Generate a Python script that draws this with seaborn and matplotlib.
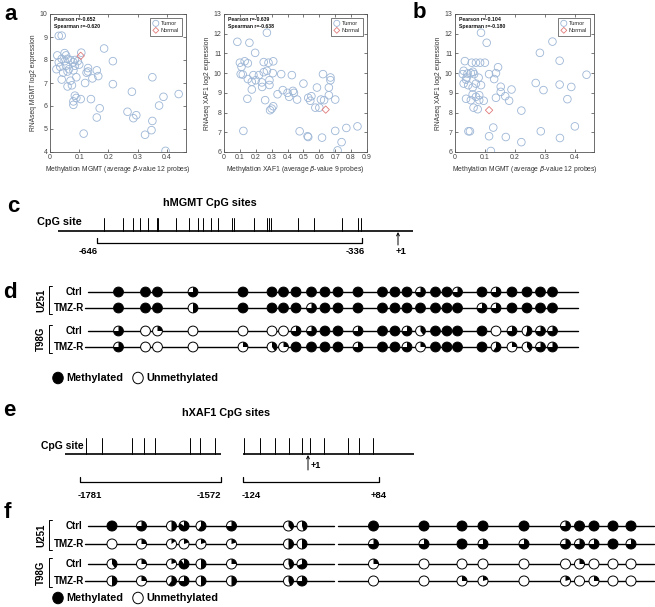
import numpy as np
import pandas as pd
import matplotlib
matplotlib.use("Agg")
import matplotlib.pyplot as plt
import seaborn as sns
from matplotlib.patches import Circle, Wedge, Ellipse

# ---------------- data ----------------
# panel a (left): MGMT methylation vs MGMT expression
a1_tumor_beta = [0.03, 0.04, 0.025, 0.03, 0.022, 0.035, 0.04, 0.05, 0.055, 0.06, 0.05, 0.055,
                 0.045, 0.04, 0.06, 0.065, 0.07, 0.06, 0.075, 0.08, 0.085, 0.08, 0.09, 0.095,
                 0.1, 0.07, 0.085, 0.085, 0.09, 0.08, 0.08, 0.105, 0.115, 0.12, 0.125, 0.13,
                 0.13, 0.14, 0.145, 0.16, 0.165, 0.16, 0.17, 0.185, 0.215, 0.215, 0.265, 0.28,
                 0.285, 0.295, 0.325, 0.347, 0.35, 0.35, 0.373, 0.388, 0.395, 0.44, 0.107]
a1_tumor_expr = [9.05, 9.06, 8.2, 7.9, 7.6, 7.7, 8.05, 8.3, 8.2, 8.05, 7.95, 7.75,
                 7.45, 7.15, 7.5, 7.6, 7.1, 6.85, 6.9, 7.9, 7.75, 7.55, 7.25, 7.95,
                 7.8, 8.0, 8.0, 6.45, 6.35, 6.2, 6.05, 6.3, 4.8, 7.0, 7.45, 7.65,
                 7.5, 6.3, 7.2, 7.55, 7.3, 5.5, 5.9, 8.5, 7.95, 6.95, 5.75, 6.62,
                 5.47, 5.6, 4.75, 4.95, 5.35, 7.25, 6.02, 6.4, 4.05, 6.52, 8.32]
a1_normal_beta = [0.105]
a1_normal_expr = [8.18]
a1_stats = ["Pearson r=-0.652", "Spearman r=-0.620"]

# panel a (right): XAF1 methylation vs XAF1 expression
a2_tumor_beta = [0.084, 0.16, 0.27, 0.196, 0.10, 0.13, 0.15, 0.25, 0.28, 0.31, 0.11, 0.105,
                 0.118, 0.15, 0.185, 0.22, 0.25, 0.27, 0.307, 0.36, 0.427, 0.175, 0.2, 0.238,
                 0.24, 0.286, 0.286, 0.175, 0.147, 0.259, 0.337, 0.37, 0.4, 0.41, 0.434, 0.44,
                 0.46, 0.5, 0.53, 0.55, 0.543, 0.575, 0.585, 0.6, 0.61, 0.63, 0.623, 0.67,
                 0.66, 0.66, 0.7, 0.67, 0.3, 0.31, 0.29, 0.122, 0.476, 0.526, 0.53, 0.617,
                 0.7, 0.77, 0.84, 0.74, 0.715]
a2_tumor_expr = [11.59, 11.54, 12.05, 11.03, 10.53, 10.6, 10.5, 10.56, 10.53, 10.6, 10.32, 9.95,
                 9.93, 9.7, 9.9, 9.9, 10.05, 10.12, 10.0, 9.95, 9.9, 9.56, 9.64, 9.53,
                 9.3, 9.64, 9.4, 9.17, 8.7, 8.63, 8.93, 9.14, 9.0, 8.8, 9.1, 9.0,
                 8.66, 9.47, 8.75, 8.83, 8.6, 8.25, 9.27, 8.25, 8.66, 8.63, 9.95, 9.64,
                 9.27, 8.88, 8.66, 9.78, 8.2, 8.32, 8.12, 7.07, 7.05, 6.8, 6.76, 6.73,
                 7.07, 7.22, 7.3, 6.5, 6.08]
a2_normal_beta = [0.64]
a2_normal_expr = [8.15]
a2_stats = ["Pearson r=-0.639", "Spearman r=-0.638"]

# panel b: MGMT methylation vs XAF1 expression
b_tumor_beta = [0.087, 0.106, 0.326, 0.284, 0.35, 0.033, 0.056, 0.07, 0.084, 0.1, 0.144, 0.029,
                0.026, 0.042, 0.053, 0.06, 0.064, 0.039, 0.079, 0.114, 0.131, 0.137, 0.029, 0.044,
                0.059, 0.037, 0.07, 0.087, 0.27, 0.153, 0.189, 0.296, 0.35, 0.389, 0.44, 0.037,
                0.059, 0.07, 0.081, 0.053, 0.081, 0.096, 0.137, 0.153, 0.168, 0.181, 0.376, 0.062,
                0.076, 0.128, 0.401, 0.045, 0.05, 0.114, 0.17, 0.222, 0.287, 0.351, 0.12, 0.222]
b_tumor_expr = [12.05, 11.54, 11.6, 11.03, 10.63, 10.61, 10.53, 10.53, 10.53, 10.53, 10.3, 10.12,
                9.95, 9.98, 10.0, 10.07, 9.95, 9.78, 9.77, 9.95, 9.7, 10.0, 9.47, 9.39,
                9.27, 9.67, 9.47, 9.39, 9.5, 9.31, 9.17, 9.14, 9.42, 9.3, 9.92, 8.7,
                8.92, 8.8, 8.88, 8.63, 8.63, 8.6, 8.75, 9.05, 8.83, 8.6, 8.68, 8.25,
                8.17, 7.24, 7.3, 7.05, 7.05, 6.8, 6.76, 6.5, 7.05, 6.71, 6.05, 8.1]
b_normal_beta = [0.114]
b_normal_expr = [8.12]
b_stats = ["Pearson r=-0.104", "Spearman r=-0.180"]

# panel c: hMGMT CpG sites (schematic positions along the promoter line)
mgmt_cpg_sites = [104.3, 123.3, 132.7, 140, 147.7, 156.7, 158.3, 176, 189.3, 197.7, 203.3, 210.7,
                  218.3, 232.3, 234.3, 254.3, 267.3, 269.3, 271, 297.7, 314.3, 341.7, 358.3, 360.7]
mgmt_region_labels = ["-646", "-336", "+1"]

# panel d: methylation fraction at each MGMT CpG site
d_sites = [118.5, 145.5, 157.5, 193, 243, 272, 283.5, 296, 311.5, 325, 338, 358, 382.5, 395,
           407, 420.5, 435.5, 447, 457.5, 482, 496, 512, 527, 540.5, 552.5]
d_u251_ctrl = [1, 1, 1, 0.75, 1, 1, 1, 1, 1, 1, 1, 1, 1, 1, 1, 0.75, 1, 1, 0.75, 1, 0.75, 1, 1, 1, 1]
d_u251_tmzr = [1, 1, 1, 0.5, 1, 1, 1, 1, 0.75, 1, 1, 1, 1, 1, 1, 1, 1, 1, 1, 0.75, 0.75, 1, 1, 1, 1]
d_t98g_ctrl = [0.75, 0, 0.25, 0, 0, 0, 0, 0.75, 0.75, 1, 1, 0.75, 1, 1, 0.75, 0.4, 1, 1, 1, 1,
               0, 0.75, 0.55, 0.75, 0.75]
d_t98g_tmzr = [0.75, 0, 0, 0, 0.25, 0.4, 0.25, 1, 1, 1, 1, 0.75, 1, 1, 0.75, 0.25, 1, 1, 1, 1,
               0.6, 0.25, 0.4, 0.75, 0.75]

# panel e: hXAF1 CpG sites (schematic)
xaf1_cpg_upstream = [86, 102, 132, 143.5, 155, 189.5, 200, 214.5]
xaf1_cpg_tss = [244, 259.5, 275, 288.5, 302, 310, 323.5, 347.5, 358.5, 372.5]
xaf1_region_labels = ["-1781", "-1572", "-124", "+84", "+1"]

# panel f: methylation fraction at each XAF1 CpG site
f_sites_left = [112, 141.5, 171.5, 184, 201, 231.5, 288.5, 302]
f_sites_right = [373.5, 424, 462, 483, 524, 565.5, 579.5, 594, 613, 631]
f_u251_ctrl = [1, 0.75, 0.5, 0.85, 0.6, 0.75, 0.4, 0.45] + [1, 1, 1, 1, 1, 0.75, 1, 1, 1, 1]
f_u251_tmzr = [0, 0.25, 0.15, 0.2, 0.2, 0.2, 0.5, 0.5] + [0.75, 0.75, 1, 0.75, 0.75, 0.75, 0.75, 0.75, 1, 0.75]
f_t98g_ctrl = [0.4, 0.25, 0.2, 0.9, 0.5, 0.25, 0.45, 0.7] + [0.25, 0, 0, 0, 0, 0, 0.25, 0, 0, 0]
f_t98g_tmzr = [0.5, 0.25, 0.6, 0.75, 0.5, 0.5, 0.45, 0.75] + [0, 0, 0.25, 0.2, 0, 0.2, 0, 0.25, 0, 0]

row_labels = ["Ctrl", "TMZ-R", "Ctrl", "TMZ-R"]
cell_lines = ["U251", "T98G"]

# ---------------- style ----------------
sns.set_theme(style="ticks")
plt.rcParams["font.family"] = ["Liberation Sans", "DejaVu Sans"]
TUMOR_C = "#9db6d6"
NORMAL_C = "#e07a7a"
W, H = 655, 607
fig = plt.figure(figsize=(W / 100, H / 100), dpi=100)


def add_ax_px(l, t, r, b):
    return fig.add_axes([l / W, 1 - b / H, (r - l) / W, (b - t) / H])


def scatter_panel(ax, tx, ty, nx, ny, xlim, ylim, xticks, yticks, xlabel, ylabel, stats):
    sns.scatterplot(x=tx, y=ty, ax=ax, marker="o", s=30, color=TUMOR_C,
                    facecolor="none", edgecolor=TUMOR_C, linewidth=0.6, label="Tumor")
    sns.scatterplot(x=nx, y=ny, ax=ax, marker="D", s=14, color=NORMAL_C,
                    facecolor="none", edgecolor=NORMAL_C, linewidth=0.6, label="Normal")
    ax.set_xlim(*xlim)
    ax.set_ylim(*ylim)
    ax.set_xticks(xticks)
    ax.set_xticklabels([f"{v:g}" for v in xticks])
    ax.set_yticks(yticks)
    ax.set_yticklabels([f"{v:g}" for v in yticks])
    ax.tick_params(direction="in", top=True, right=True, length=2, width=0.5,
                   labelsize=5, colors="#444444", pad=1.8)
    for sp in ax.spines.values():
        sp.set_linewidth(0.6)
        sp.set_color("#555555")
    ax.set_xlabel(xlabel, fontsize=4.9, color="#333333", labelpad=2)
    ax.set_ylabel(ylabel, fontsize=4.9, color="#333333", labelpad=2)
    leg = ax.legend(loc="upper right", fontsize=4.1, frameon=True, fancybox=False,
                    edgecolor="#444444", framealpha=1, borderpad=0.5, handletextpad=0.3,
                    labelspacing=0.35, borderaxespad=0.7, handlelength=1.2, markerscale=0.8)
    leg.get_frame().set_linewidth(0.5)
    ax.text(0.03, 0.975, "\n".join(stats), transform=ax.transAxes, va="top", ha="left",
            fontsize=3.7, fontweight="bold", linespacing=1.5, color="#111111")


ax1 = add_ax_px(50, 14, 186, 152)
scatter_panel(ax1, a1_tumor_beta, a1_tumor_expr, a1_normal_beta, a1_normal_expr,
              (0, 0.465), (4, 10), [0, 0.1, 0.2, 0.3, 0.4], list(range(4, 11)),
              "Methylation MGMT (average $\\beta$-value 12 probes)",
              "RNAseq MGMT log2 expression", a1_stats)
ax2 = add_ax_px(224, 14, 367, 152)
scatter_panel(ax2, a2_tumor_beta, a2_tumor_expr, a2_normal_beta, a2_normal_expr,
              (0, 0.9), (6, 13), [round(0.1 * i, 1) for i in range(10)], list(range(6, 14)),
              "Methylation XAF1 (average $\\beta$-value 9 probes)",
              "RNAseq XAF1 log2 expression", a2_stats)
ax3 = add_ax_px(455, 14, 594, 152)
scatter_panel(ax3, b_tumor_beta, b_tumor_expr, b_normal_beta, b_normal_expr,
              (0, 0.465), (6, 13), [0, 0.1, 0.2, 0.3, 0.4], list(range(6, 14)),
              "Methylation MGMT (average $\\beta$-value 12 probes)",
              "RNAseq XAF1 log2 expression", b_stats)

# ---------------- schematic overlay (pixel coordinates) ----------------
ov = fig.add_axes([0, 0, 1, 1])
ov.set_xlim(0, W)
ov.set_ylim(H, 0)
ov.axis("off")
ov.patch.set_alpha(0)

BOLD = dict(fontweight="bold", color="black")

# panel letters
for txt, x, y in [("a", 11, 15), ("b", 419, 13), ("c", 13, 206), ("d", 10, 292),
                  ("e", 9, 411), ("f", 7, 513)]:
    ov.text(x, y, txt, fontsize=16, ha="center", va="center", **BOLD)

# panel c
ov.text(210, 203, "hMGMT CpG sites", fontsize=7.8, ha="center", va="center", **BOLD)
ov.text(37, 222, "CpG site", fontsize=7.8, ha="left", va="center", **BOLD)
ov.plot([58, 413], [231, 231], color="black", lw=1.2, solid_capstyle="butt")
for x in mgmt_cpg_sites:
    ov.plot([x, x], [218, 231], color="black", lw=0.7)
ov.plot([97, 97, 362, 362], [238, 243, 243, 238], color="black", lw=0.9)
ov.text(97 - 9, 251, mgmt_region_labels[0], fontsize=6.8, ha="center", va="center", **BOLD)
ov.text(355, 251, mgmt_region_labels[1], fontsize=6.8, ha="center", va="center", **BOLD)
ov.annotate("", xy=(398, 232), xytext=(398, 245),
            arrowprops=dict(arrowstyle="->", lw=0.7, color="black", shrinkA=0, shrinkB=0,
                            mutation_scale=5))
ov.text(401, 251, mgmt_region_labels[2], fontsize=6.8, ha="center", va="center", **BOLD)


def pie(x, y, frac, r):
    ov.add_patch(Circle((x, y), r, facecolor="white", edgecolor="none", zorder=3))
    if frac >= 0.999:
        ov.add_patch(Circle((x, y), r, facecolor="black", edgecolor="none", zorder=4))
    elif frac > 0:
        ov.add_patch(Wedge((x, y), r, 270, 270 + 360 * frac, facecolor="black",
                           edgecolor="none", zorder=4))
    ov.add_patch(Circle((x, y), r, facecolor="none", edgecolor="black", lw=0.7, zorder=5))


def methylation_block(row_y, rows, segments, site_sets, r, legend_y):
    for i, (y, lab) in enumerate(zip(row_y, row_labels)):
        ov.text(82 if lab == "Ctrl" else 84, y, lab, fontsize=7, ha="right", va="center", **BOLD)
    for k, name in enumerate(cell_lines):
        y0, y1 = row_y[2 * k] - 6, row_y[2 * k + 1] + 6
        ov.plot([52, 49, 49, 52], [y0, y0, y1, y1], color="black", lw=0.7)
        ov.text(41, (y0 + y1) / 2, name, fontsize=7, rotation=90, ha="center", va="center", **BOLD)
    for i, (y, vals) in enumerate(zip(row_y, rows)):
        start = 88 if row_labels[i] == "Ctrl" else 85
        for j, (xa, xb) in enumerate(segments):
            ov.plot([start if j == 0 else xa, xb], [y, y], color="black", lw=1.0, zorder=2)
        xs = [x for s in site_sets for x in s]
        for x, v in zip(xs, vals):
            pie(x, y, v, r)
    ov.add_patch(Ellipse((58, legend_y), 10.5, 11.5, facecolor="black", edgecolor="black", lw=0.7))
    ov.text(66, legend_y, "Methylated", fontsize=7.8, ha="left", va="center", **BOLD)
    ov.add_patch(Ellipse((138, legend_y), 10.5, 11.5, facecolor="white", edgecolor="black", lw=0.7))
    ov.text(146, legend_y, "Unmethylated", fontsize=7.8, ha="left", va="center", **BOLD)


# panel d
methylation_block([292, 308, 331, 347], [d_u251_ctrl, d_u251_tmzr, d_t98g_ctrl, d_t98g_tmzr],
                  [(88, 578)], [d_sites], 4.9, 378)

# panel e
ov.text(226, 413, "hXAF1 CpG sites", fontsize=7.8, ha="center", va="center", **BOLD)
ov.text(84, 446, "CpG site", fontsize=7.5, ha="right", va="center", **BOLD)
ov.plot([65, 221], [454, 454], color="black", lw=1.2, solid_capstyle="butt")
ov.plot([243, 414], [454, 454], color="black", lw=1.2, solid_capstyle="butt")
for x in xaf1_cpg_upstream + xaf1_cpg_tss:
    ov.plot([x, x], [438, 454], color="black", lw=0.7)
ov.plot([79.5, 79.5, 221, 221], [477, 482, 482, 477], color="black", lw=0.9)
ov.plot([243, 243, 378.5, 378.5], [477, 482, 482, 477], color="black", lw=0.9)
for lab, x in zip(xaf1_region_labels[:4], [90, 209, 251, 379]):
    ov.text(x, 495, lab, fontsize=6.8, ha="center", va="center", **BOLD)
ov.annotate("", xy=(308, 455), xytext=(308, 470),
            arrowprops=dict(arrowstyle="->", lw=0.7, color="black", shrinkA=0, shrinkB=0,
                            mutation_scale=5))
ov.text(311, 466, xaf1_region_labels[4], fontsize=6.5, ha="left", va="center", **BOLD)

# panel f
methylation_block([526, 544, 564, 581], [f_u251_ctrl, f_u251_tmzr, f_t98g_ctrl, f_t98g_tmzr],
                  [(88, 334), (338, 654)], [f_sites_left, f_sites_right], 5.0, 598)

fig.savefig("out.png", dpi=100)
